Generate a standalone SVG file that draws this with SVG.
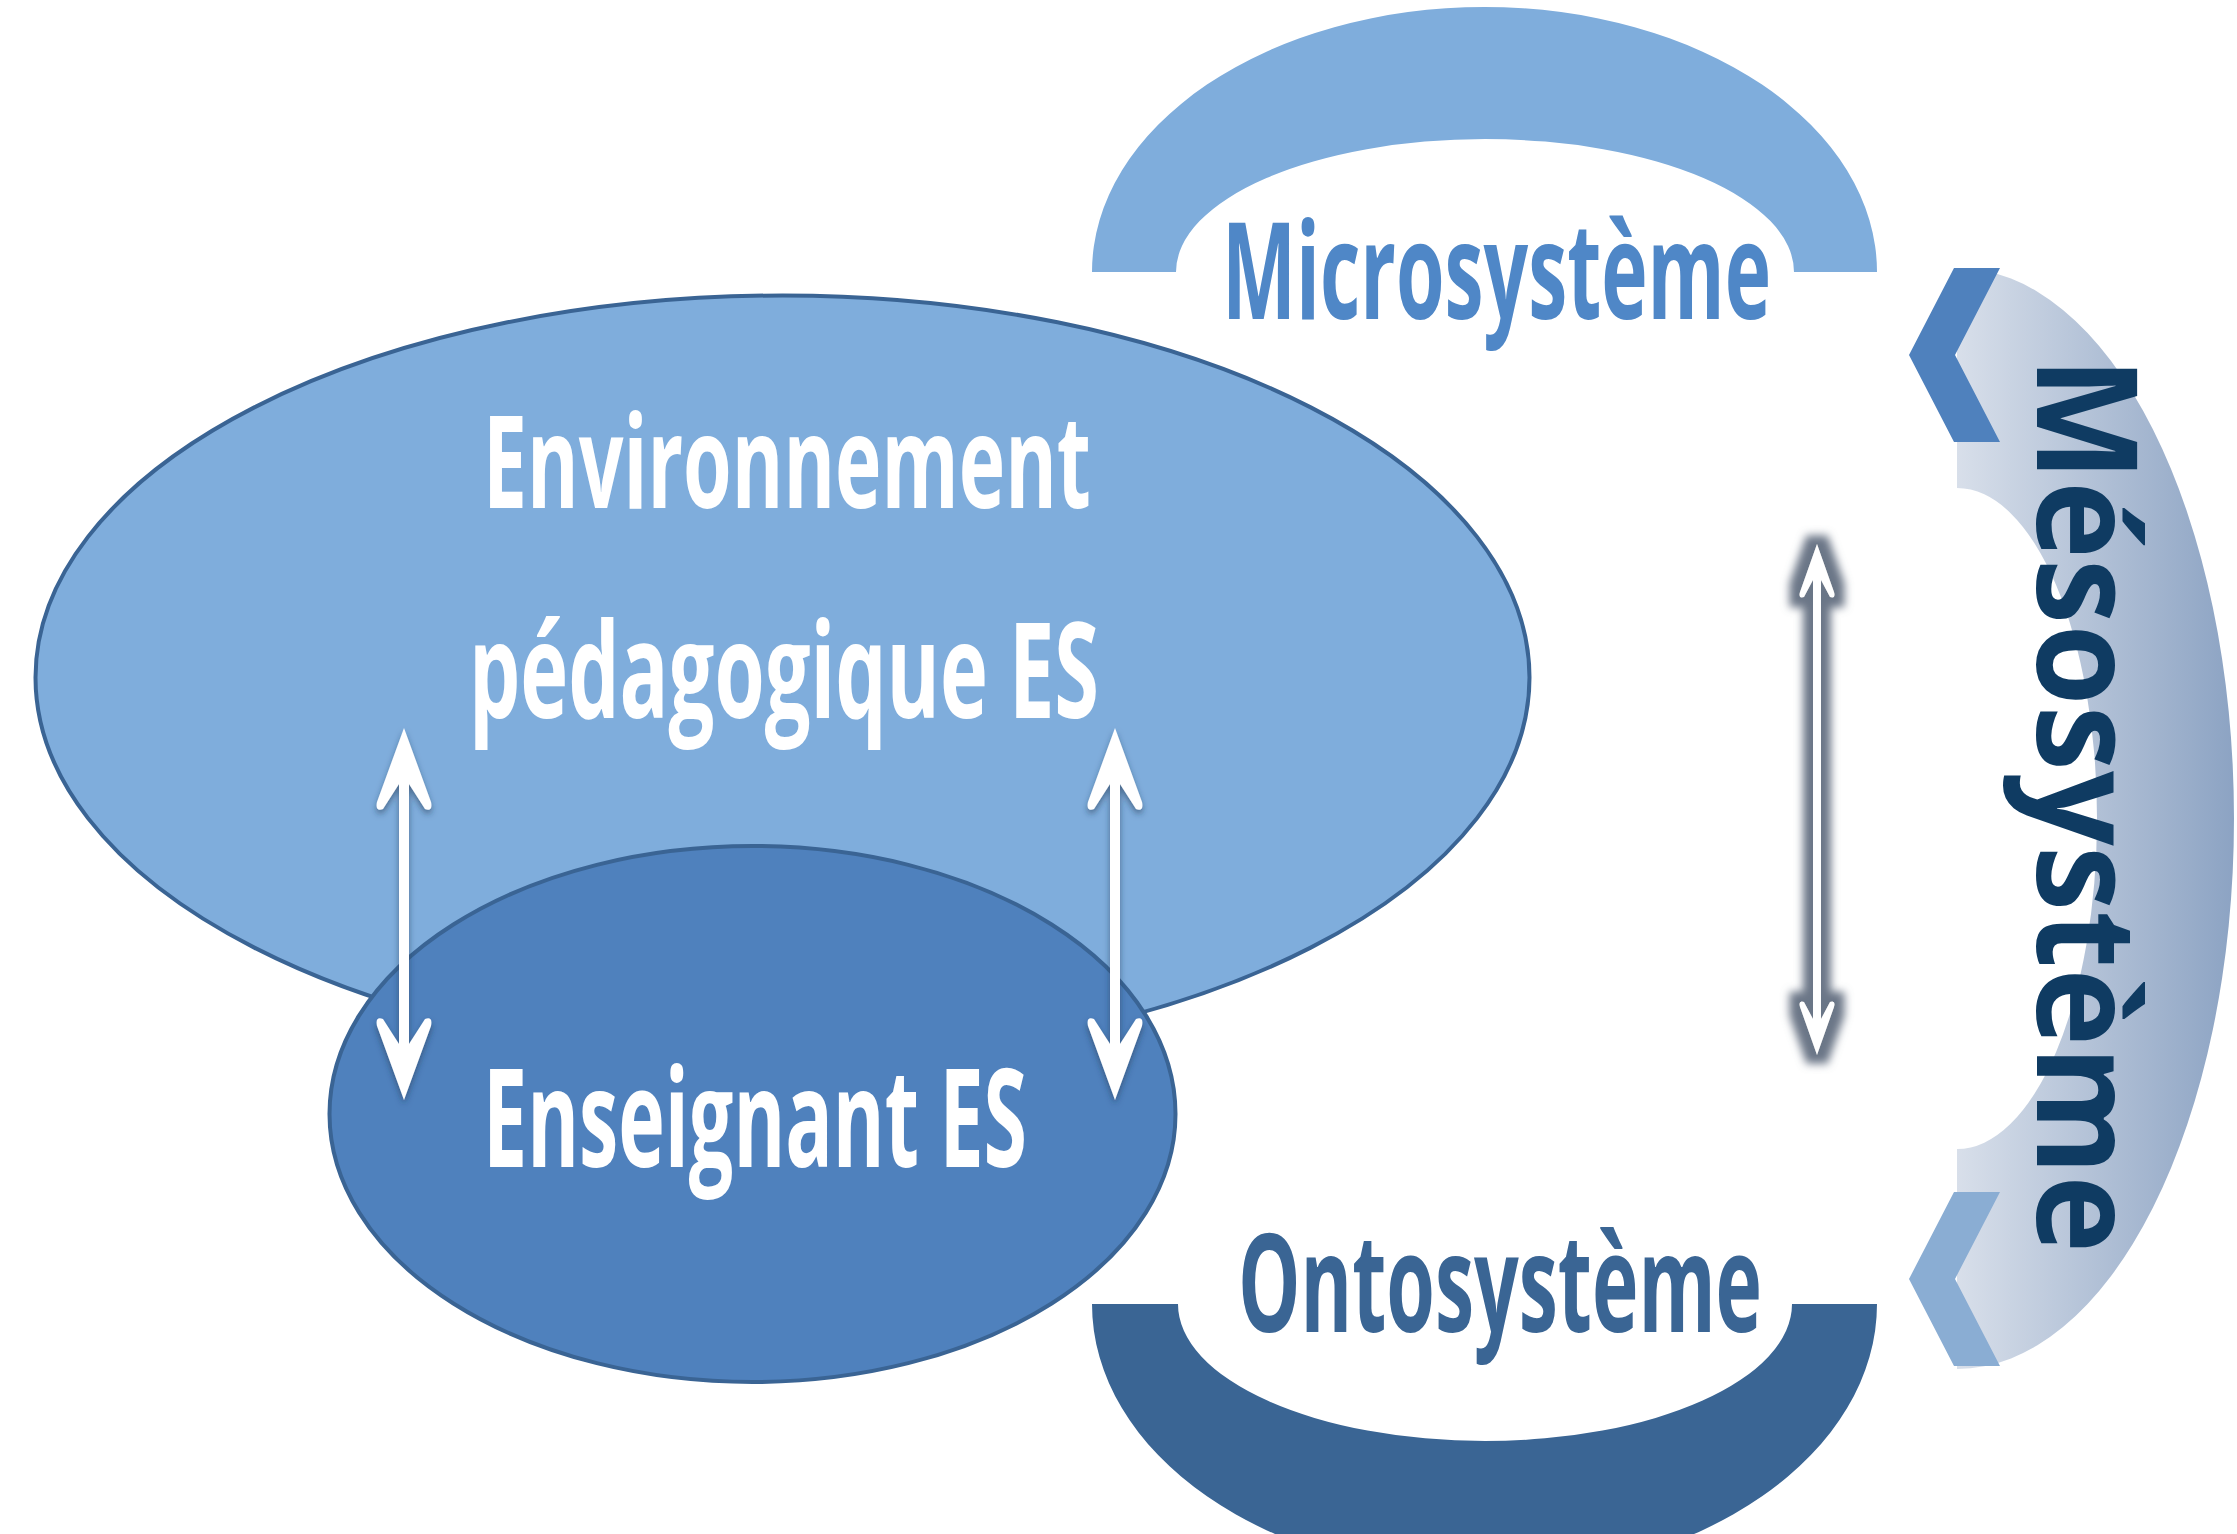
<svg xmlns="http://www.w3.org/2000/svg" width="2237" height="1534" viewBox="0 0 2237 1534">
<style>
  .lbl { font-family: "Open Sans", "Noto Sans", "DejaVu Sans", sans-serif; font-weight: 700; }
  .white { fill: #FFFFFF; }
  .arrow { fill: #FFFFFF; }
</style>
<defs>
  <linearGradient id="mesoGrad" x1="0" y1="0" x2="1" y2="0">
    <stop offset="0" stop-color="#D8DFEA"/>
    <stop offset="1" stop-color="#8CA3C3"/>
  </linearGradient>
  <filter id="shadow" x="-50%" y="-10%" width="200%" height="120%">
    <feDropShadow dx="0" dy="4" stdDeviation="3" flood-color="#1F3550" flood-opacity="0.55"/>
  </filter>
  <filter id="glow" x="-150%" y="-10%" width="400%" height="120%">
    <feMorphology in="SourceAlpha" operator="dilate" radius="10" result="d"/>
    <feGaussianBlur in="d" stdDeviation="4" result="b"/>
    <feFlood flood-color="#6B7687" result="f"/>
    <feComposite in="f" in2="b" operator="in" result="g"/>
    <feMerge><feMergeNode in="g"/><feMergeNode in="SourceGraphic"/></feMerge>
  </filter>
</defs>
<rect x="0" y="0" width="2237" height="1534" fill="#FFFFFF"/>

<g id="node-microsysteme">
  <path d="M1092,272 A392.5,265 0 0 1 1877,272 L1794,272 A309,133 0 0 0 1176,272 Z" fill="#7FADDC"/>
  <text class="lbl" x="1222" y="319" font-size="134" textLength="549" lengthAdjust="spacingAndGlyphs" fill="#4F87C7">Microsystème</text>
</g>

<g id="node-ontosysteme">
  <path d="M1092,1304 A392.5,272 0 0 0 1877,1304 L1792,1304 A307,137 0 0 1 1178,1304 Z" fill="#3A6594"/>
  <text class="lbl" x="1238" y="1332" font-size="136" textLength="524" lengthAdjust="spacingAndGlyphs" fill="#3A6594">Ontosystème</text>
</g>

<g id="node-mesosysteme">
  <path d="M1957,268 A277,550.5 0 0 1 1957,1369 L1957,1149 A140,330.5 0 0 0 1957,488 Z" fill="url(#mesoGrad)"/>
  <polygon points="1954,268 2000,268 1955,355 2000,442 1954,442 1909,355" fill="#4F81BD"/>
  <polygon points="1954,1192 2000,1192 1955,1279 2000,1366 1954,1366 1909,1279" fill="#8AADD3"/>
  <text class="lbl" transform="translate(2037,357) rotate(90)" x="0" y="0" font-size="140" textLength="896" lengthAdjust="spacingAndGlyphs" fill="#0F3B62">Mésosystème</text>
</g>

<g id="node-environnement">
  <ellipse cx="782.5" cy="677.5" rx="747" ry="382" fill="#7FADDC" stroke="#3A6494" stroke-width="4"/>
  <text class="lbl white" x="483" y="508" font-size="130" textLength="608" lengthAdjust="spacingAndGlyphs">Environnement</text>
  <text class="lbl white" x="469" y="718" font-size="133" textLength="630" lengthAdjust="spacingAndGlyphs">pédagogique ES</text>
</g>

<g id="node-enseignant">
  <ellipse cx="752.5" cy="1114" rx="423" ry="268" fill="#4F81BD" stroke="#3A6494" stroke-width="4"/>
  <text class="lbl white" x="483" y="1167" font-size="136" textLength="544" lengthAdjust="spacingAndGlyphs">Enseignant ES</text>
</g>

<g id="connectors">
  <path class="arrow" filter="url(#shadow)" d="M404,728 L431,802 Q433,812 425,809 L409,784 L409,1044 L425,1019 Q433,1016 431,1026 L404,1100 L377,1026 Q375,1016 383,1019 L399,1044 L399,784 L383,809 Q375,812 377,802 Z"/>
  <path class="arrow" filter="url(#shadow)" d="M1115,728 L1142,802 Q1144,812 1136,809 L1120,784 L1120,1044 L1136,1019 Q1144,1016 1142,1026 L1115,1100 L1088,1026 Q1086,1016 1094,1019 L1110,1044 L1110,784 L1094,809 Q1086,812 1088,802 Z"/>
  <path class="arrow" filter="url(#glow)" d="M1817,544 L1834,592 Q1836,599 1830,597 L1821,580 L1821,1019 L1830,1002 Q1836,1000 1834,1007 L1817,1055 L1800,1007 Q1798,1000 1804,1002 L1813,1019 L1813,580 L1804,597 Q1798,599 1800,592 Z"/>
</g>
</svg>
